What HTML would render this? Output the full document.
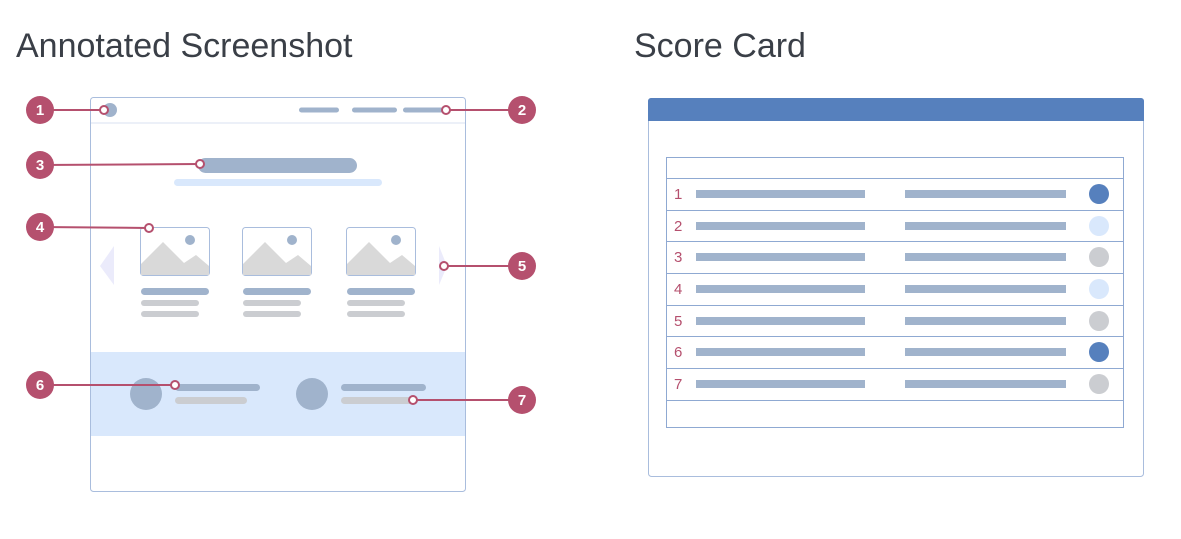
<!DOCTYPE html>
<html><head><style>
html,body{margin:0;padding:0;background:#fff;width:1181px;height:539px;overflow:hidden}
svg{display:block}
text{font-family:"Liberation Sans",sans-serif}
</style></head><body>
<svg width="1181" height="539" viewBox="0 0 1181 539">
<text x="16" y="57" font-size="34" fill="#3a3f47">Annotated Screenshot</text>
<text x="634" y="57" font-size="34" fill="#3a3f47">Score Card</text>

<rect x="90.5" y="97.5" width="375" height="394" rx="3" fill="#fff" stroke="#a9bddd"/>
<line x1="91" y1="123" x2="465" y2="123" stroke="#e6ecf5" stroke-width="1.5"/>
<circle cx="110" cy="110" r="7" fill="#a0b3cc"/>
<rect x="299" y="107.5" width="40" height="5" rx="2.5" fill="#a0b3cc"/>
<rect x="352" y="107.5" width="45" height="5" rx="2.5" fill="#a0b3cc"/>
<rect x="403" y="107.5" width="43" height="5" rx="2.5" fill="#a0b3cc"/>
<rect x="198" y="158" width="159" height="15" rx="7.5" fill="#a0b3cc"/>
<rect x="174" y="179" width="208" height="7" rx="3.5" fill="#d9e8fc"/>

<g>
<rect x="140.5" y="227.5" width="69" height="48" rx="3" fill="#fff" stroke="#a9bddd"/>
<polygon points="141,264 163,242 184,263 196,255 209,266 209,275 141,275" fill="#d9d9d9"/>
<circle cx="190" cy="240" r="5" fill="#a0b3cc"/>
<rect x="141" y="288" width="68" height="7" rx="3.5" fill="#a0b3cc"/>
<rect x="141" y="300" width="58" height="6" rx="3" fill="#cbcdd1"/>
<rect x="141" y="311" width="58" height="6" rx="3" fill="#cbcdd1"/>
</g>
<g transform="translate(102,0)">
<rect x="140.5" y="227.5" width="69" height="48" rx="3" fill="#fff" stroke="#a9bddd"/>
<polygon points="141,264 163,242 184,263 196,255 209,266 209,275 141,275" fill="#d9d9d9"/>
<circle cx="190" cy="240" r="5" fill="#a0b3cc"/>
<rect x="141" y="288" width="68" height="7" rx="3.5" fill="#a0b3cc"/>
<rect x="141" y="300" width="58" height="6" rx="3" fill="#cbcdd1"/>
<rect x="141" y="311" width="58" height="6" rx="3" fill="#cbcdd1"/>
</g>
<g transform="translate(206,0)">
<rect x="140.5" y="227.5" width="69" height="48" rx="3" fill="#fff" stroke="#a9bddd"/>
<polygon points="141,264 163,242 184,263 196,255 209,266 209,275 141,275" fill="#d9d9d9"/>
<circle cx="190" cy="240" r="5" fill="#a0b3cc"/>
<rect x="141" y="288" width="68" height="7" rx="3.5" fill="#a0b3cc"/>
<rect x="141" y="300" width="58" height="6" rx="3" fill="#cbcdd1"/>
<rect x="141" y="311" width="58" height="6" rx="3" fill="#cbcdd1"/>
</g>
<polygon points="114,246 114,285 100,266" fill="#ebebfb"/>
<polygon points="439,246 439,285 447,266" fill="#ebebfb"/>

<rect x="91" y="352" width="374" height="84" fill="#d9e8fc"/>
<circle cx="146" cy="394" r="16" fill="#a0b3cc"/>
<circle cx="312" cy="394" r="16" fill="#a0b3cc"/>
<rect x="175" y="384" width="85" height="7" rx="3.5" fill="#a0b3cc"/>
<rect x="175" y="397" width="72" height="7" rx="3.5" fill="#cbcdd1"/>
<rect x="341" y="384" width="85" height="7" rx="3.5" fill="#a0b3cc"/>
<rect x="341" y="397" width="72" height="7" rx="3.5" fill="#cbcdd1"/>

<g stroke="#b5506e" stroke-width="2">
<line x1="40" y1="110" x2="104" y2="110"/>
<line x1="446" y1="110" x2="522" y2="110"/>
<line x1="40" y1="165" x2="200" y2="164"/>
<line x1="40" y1="227" x2="149" y2="228"/>
<line x1="444" y1="266" x2="522" y2="266"/>
<line x1="40" y1="385" x2="175" y2="385"/>
<line x1="413" y1="400" x2="522" y2="400"/>
<g fill="#fff">
<circle cx="104" cy="110" r="4"/><circle cx="446" cy="110" r="4"/><circle cx="200" cy="164" r="4"/>
<circle cx="149" cy="228" r="4"/><circle cx="444" cy="266" r="4"/><circle cx="175" cy="385" r="4"/><circle cx="413" cy="400" r="4"/>
</g>
</g>
<g fill="#b5506e">
<circle cx="40" cy="110" r="14"/><circle cx="522" cy="110" r="14"/><circle cx="40" cy="165" r="14"/>
<circle cx="40" cy="227" r="14"/><circle cx="522" cy="266" r="14"/><circle cx="40" cy="385" r="14"/><circle cx="522" cy="400" r="14"/>
</g>
<g fill="#fff" font-size="15" font-weight="bold" text-anchor="middle">
<text x="40" y="115">1</text>
<text x="522" y="115">2</text>
<text x="40" y="170">3</text>
<text x="40" y="232">4</text>
<text x="522" y="271">5</text>
<text x="40" y="390">6</text>
<text x="522" y="405">7</text>
</g>

<rect x="648.5" y="98.5" width="495" height="378" rx="3" fill="#fff" stroke="#a9bddd"/>
<path d="M648,121 V101 a3,3 0 0 1 3,-3 H1141 a3,3 0 0 1 3,3 V121 Z" fill="#5680bd"/>
<rect x="666.5" y="157.5" width="457" height="270" fill="none" stroke="#8fa9d2"/>
<g stroke="#8fa9d2">
<line x1="666" y1="178.5" x2="1123" y2="178.5"/>
<line x1="666" y1="210.5" x2="1123" y2="210.5"/>
<line x1="666" y1="241.5" x2="1123" y2="241.5"/>
<line x1="666" y1="273.5" x2="1123" y2="273.5"/>
<line x1="666" y1="305.5" x2="1123" y2="305.5"/>
<line x1="666" y1="336.5" x2="1123" y2="336.5"/>
<line x1="666" y1="368.5" x2="1123" y2="368.5"/>
<line x1="666" y1="400.5" x2="1123" y2="400.5"/>
</g>
<g fill="#a0b3cc">
<rect x="696" y="190" width="169" height="8"/><rect x="905" y="190" width="161" height="8"/>
<rect x="696" y="222" width="169" height="8"/><rect x="905" y="222" width="161" height="8"/>
<rect x="696" y="253" width="169" height="8"/><rect x="905" y="253" width="161" height="8"/>
<rect x="696" y="285" width="169" height="8"/><rect x="905" y="285" width="161" height="8"/>
<rect x="696" y="317" width="169" height="8"/><rect x="905" y="317" width="161" height="8"/>
<rect x="696" y="348" width="169" height="8"/><rect x="905" y="348" width="161" height="8"/>
<rect x="696" y="380" width="169" height="8"/><rect x="905" y="380" width="161" height="8"/>
</g>
<circle cx="1099" cy="194" r="10" fill="#5680bd"/>
<circle cx="1099" cy="226" r="10" fill="#d9e8fc"/>
<circle cx="1099" cy="257" r="10" fill="#cbcdd1"/>
<circle cx="1099" cy="289" r="10" fill="#d9e8fc"/>
<circle cx="1099" cy="321" r="10" fill="#cbcdd1"/>
<circle cx="1099" cy="352" r="10" fill="#5680bd"/>
<circle cx="1099" cy="384" r="10" fill="#cbcdd1"/>
<g fill="#b5506e" font-size="15">
<text x="674" y="199">1</text><text x="674" y="231">2</text><text x="674" y="262">3</text>
<text x="674" y="294">4</text><text x="674" y="326">5</text><text x="674" y="357">6</text><text x="674" y="389">7</text>
</g>
</svg>
</body></html>
